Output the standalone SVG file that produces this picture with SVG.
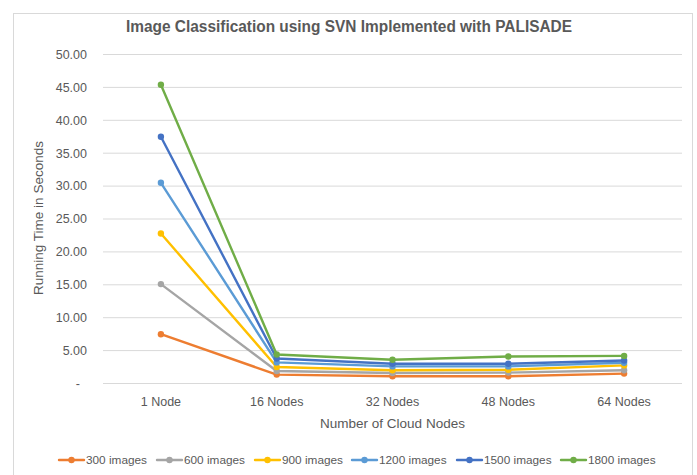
<svg xmlns="http://www.w3.org/2000/svg" width="697" height="475" viewBox="0 0 697 475">
<style>
.t{font-family:"Liberation Sans",Arial,sans-serif;fill:#595959}
.tick{font-size:12.5px;text-anchor:end}
.xl{font-size:12.5px;text-anchor:middle}
.at{font-size:13.5px;text-anchor:middle}
.lg{font-size:11.8px}
.grid line{stroke:#D9D9D9;stroke-width:1}
.s{fill:none;stroke-width:2.4;stroke-linejoin:round;stroke-linecap:round}
.s300{stroke:#ED7D31}.f300{fill:#ED7D31}
.s600{stroke:#A5A5A5}.f600{fill:#A5A5A5}
.s900{stroke:#FFC000}.f900{fill:#FFC000}
.s1200{stroke:#5B9BD5}.f1200{fill:#5B9BD5}
.s1500{stroke:#4472C4}.f1500{fill:#4472C4}
.s1800{stroke:#70AD47}.f1800{fill:#70AD47}
</style>
<rect x="0" y="0" width="697" height="475" fill="#FFFFFF"/>
<rect x="13.5" y="13.5" width="679" height="475" fill="#FFFFFF" stroke="#D9D9D9" stroke-width="1"/>
<text class="t" x="349" y="32" font-size="16" font-weight="bold" text-anchor="middle" textLength="446" lengthAdjust="spacingAndGlyphs">Image Classification using SVN Implemented with PALISADE</text>
<g class="grid">
<line x1="103" y1="54.5" x2="682" y2="54.5"/>
<line x1="103" y1="87.4" x2="682" y2="87.4"/>
<line x1="103" y1="120.3" x2="682" y2="120.3"/>
<line x1="103" y1="153.2" x2="682" y2="153.2"/>
<line x1="103" y1="186.1" x2="682" y2="186.1"/>
<line x1="103" y1="219" x2="682" y2="219"/>
<line x1="103" y1="251.9" x2="682" y2="251.9"/>
<line x1="103" y1="284.8" x2="682" y2="284.8"/>
<line x1="103" y1="317.7" x2="682" y2="317.7"/>
<line x1="103" y1="350.6" x2="682" y2="350.6"/>
<line x1="103" y1="383.5" x2="682" y2="383.5"/>
</g>
<g id="y-axis">
<text class="t tick" x="87" y="58.8">50.00</text>
<text class="t tick" x="87" y="91.7">45.00</text>
<text class="t tick" x="87" y="124.6">40.00</text>
<text class="t tick" x="87" y="157.5">35.00</text>
<text class="t tick" x="87" y="190.4">30.00</text>
<text class="t tick" x="87" y="223.3">25.00</text>
<text class="t tick" x="87" y="256.2">20.00</text>
<text class="t tick" x="87" y="289.1">15.00</text>
<text class="t tick" x="87" y="322">10.00</text>
<text class="t tick" x="87" y="354.9">5.00</text>
<text class="t tick" x="80" y="387.8">-</text>
<text class="t at" transform="translate(43,218) rotate(-90)">Running Time in Seconds</text>
</g>
<g id="x-axis">
<text class="t xl" x="160.9" y="406">1 Node</text>
<text class="t xl" x="276.7" y="406">16 Nodes</text>
<text class="t xl" x="392.5" y="406">32 Nodes</text>
<text class="t xl" x="508.3" y="406">48 Nodes</text>
<text class="t xl" x="624.1" y="406">64 Nodes</text>
<text class="t at" x="392.5" y="428">Number of Cloud Nodes</text>
</g>
<g id="connectors">
<g id="series-300">
<polyline class="s s300" points="160.9,334.2 276.7,374.6 392.5,376.3 508.3,376.3 624.1,373.6"/>
<g class="f300"><circle cx="160.9" cy="334.2" r="3.2"/><circle cx="276.7" cy="374.6" r="3.2"/><circle cx="392.5" cy="376.3" r="3.2"/><circle cx="508.3" cy="376.3" r="3.2"/><circle cx="624.1" cy="373.6" r="3.2"/></g>
</g>
<g id="series-600">
<polyline class="s s600" points="160.9,284.1 276.7,371 392.5,373 508.3,372.6 624.1,370.3"/>
<g class="f600"><circle cx="160.9" cy="284.1" r="3.2"/><circle cx="276.7" cy="371" r="3.2"/><circle cx="392.5" cy="373" r="3.2"/><circle cx="508.3" cy="372.6" r="3.2"/><circle cx="624.1" cy="370.3" r="3.2"/></g>
</g>
<g id="series-900">
<polyline class="s s900" points="160.9,233.5 276.7,367 392.5,370.3 508.3,369.7 624.1,365.4"/>
<g class="f900"><circle cx="160.9" cy="233.5" r="3.2"/><circle cx="276.7" cy="367" r="3.2"/><circle cx="392.5" cy="370.3" r="3.2"/><circle cx="508.3" cy="369.7" r="3.2"/><circle cx="624.1" cy="365.4" r="3.2"/></g>
</g>
<g id="series-1200">
<polyline class="s s1200" points="160.9,182.8 276.7,362.4 392.5,366.4 508.3,366.4 624.1,362.8"/>
<g class="f1200"><circle cx="160.9" cy="182.8" r="3.2"/><circle cx="276.7" cy="362.4" r="3.2"/><circle cx="392.5" cy="366.4" r="3.2"/><circle cx="508.3" cy="366.4" r="3.2"/><circle cx="624.1" cy="362.8" r="3.2"/></g>
</g>
<g id="series-1500">
<polyline class="s s1500" points="160.9,136.8 276.7,358.5 392.5,363.8 508.3,363.8 624.1,360.5"/>
<g class="f1500"><circle cx="160.9" cy="136.8" r="3.2"/><circle cx="276.7" cy="358.5" r="3.2"/><circle cx="392.5" cy="363.8" r="3.2"/><circle cx="508.3" cy="363.8" r="3.2"/><circle cx="624.1" cy="360.5" r="3.2"/></g>
</g>
<g id="series-1800">
<polyline class="s s1800" points="160.9,84.8 276.7,354.5 392.5,359.8 508.3,356.5 624.1,355.9"/>
<g class="f1800"><circle cx="160.9" cy="84.8" r="3.2"/><circle cx="276.7" cy="354.5" r="3.2"/><circle cx="392.5" cy="359.8" r="3.2"/><circle cx="508.3" cy="356.5" r="3.2"/><circle cx="624.1" cy="355.9" r="3.2"/></g>
</g>
</g>
<g id="legend">
<g id="legend-300"><line class="s s300" x1="59" y1="460" x2="84" y2="460"/><circle class="f300" cx="71.5" cy="460" r="3.2"/><text class="t lg" x="86" y="464.2">300 images</text></g>
<g id="legend-600"><line class="s s600" x1="157" y1="460" x2="182" y2="460"/><circle class="f600" cx="169.5" cy="460" r="3.2"/><text class="t lg" x="184" y="464.2">600 images</text></g>
<g id="legend-900"><line class="s s900" x1="255" y1="460" x2="280" y2="460"/><circle class="f900" cx="267.5" cy="460" r="3.2"/><text class="t lg" x="282" y="464.2">900 images</text></g>
<g id="legend-1200"><line class="s s1200" x1="352" y1="460" x2="377" y2="460"/><circle class="f1200" cx="364.5" cy="460" r="3.2"/><text class="t lg" x="379" y="464.2">1200 images</text></g>
<g id="legend-1500"><line class="s s1500" x1="457" y1="460" x2="482" y2="460"/><circle class="f1500" cx="469.5" cy="460" r="3.2"/><text class="t lg" x="484" y="464.2">1500 images</text></g>
<g id="legend-1800"><line class="s s1800" x1="561" y1="460" x2="586" y2="460"/><circle class="f1800" cx="573.5" cy="460" r="3.2"/><text class="t lg" x="588" y="464.2">1800 images</text></g>
</g>
</svg>
